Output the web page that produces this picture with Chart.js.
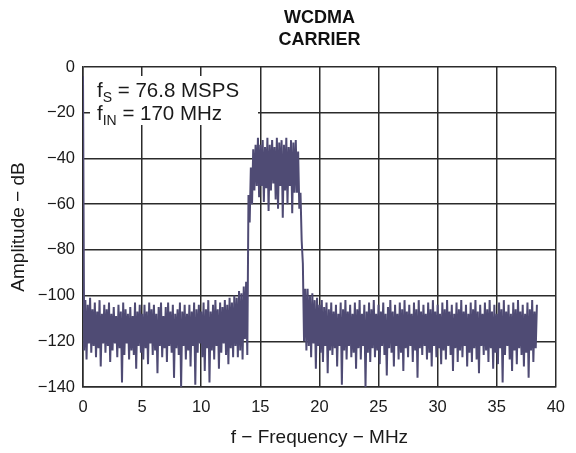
<!DOCTYPE html>
<html>
<head>
<meta charset="utf-8">
<script src="https://cdn.jsdelivr.net/npm/chart.js@4"></script>
<style>
  body { margin: 0; background: #fff; }
  #wrap { width: 576px; height: 453px; position: relative; }
</style>
</head>
<body>
<div id="wrap"><canvas id="spectrumChart"></canvas></div>
<script>
// FFT bin spacing of the plotted spectrum (MHz)
const binStepMHz = 0.1;

// amplitude (dB) per bin, one row per MHz
const floorLow = [
  -4, -124, -102, -128, -104, -121, -101, -125, -106, -122,
  -103, -127, -107, -123, -102, -131, -108, -121, -104, -125,
  -106, -122, -103, -129, -108, -124, -105, -121, -109, -127,
  -104, -123, -107, -138, -103, -126, -106, -121, -108, -128,
  -105, -124, -109, -126, -103, -132, -107, -122, -104, -125,
  -108, -128, -104, -123, -107, -130, -103, -121, -106, -126,
  -104, -124, -108, -134, -105, -122, -103, -127, -109, -123,
  -105, -129, -103, -122, -107, -125, -104, -136, -108, -123,
  -106, -126, -103, -140, -107, -122, -104, -128, -108, -124,
  -104, -131, -107, -122, -103, -139, -106, -125, -104, -121,
  -107, -127, -103, -133, -106, -123, -102, -138, -107, -124,
  -104, -128, -102, -122, -106, -132, -103, -125, -105, -121,
  -102, -126, -104, -130, -101, -123, -103, -127, -100, -122,
  -101, -127, -98, -124, -99, -128, -96, -119, -94, -126
];

const carrier = [
  -56, -68, -44, -60, -36, -54, -34, -52, -31, -57,
  -34, -52, -32, -59, -35, -53, -31, -63, -34, -54,
  -32, -51, -35, -58, -31, -62, -33, -52, -32, -66,
  -34, -54, -31, -60, -35, -52, -32, -64, -33, -55,
  -32, -55, -37, -62, -55, -76, -86, -120, -97, -124
];

const floorHigh = [
  -97, -122, -100, -127, -99, -121, -102, -132, -101, -122,
  -104, -125, -102, -129, -105, -122, -103, -134, -106, -124,
  -103, -126, -107, -123, -104, -131, -108, -122, -103, -139,
  -106, -124, -102, -128, -107, -122, -104, -127, -108, -125,
  -103, -132, -106, -123, -102, -128, -108, -122, -104, -140,
  -107, -125, -103, -129, -106, -123, -102, -127, -108, -124,
  -104, -130, -107, -122, -103, -126, -108, -135, -105, -123,
  -102, -125, -107, -131, -104, -122, -108, -128, -103, -125,
  -106, -133, -102, -123, -107, -127, -104, -122, -108, -129,
  -103, -124, -106, -136, -102, -123, -107, -126, -104, -122,
  -108, -128, -103, -125, -106, -131, -102, -122, -107, -127,
  -104, -123, -108, -130, -103, -124, -106, -128, -102, -122,
  -107, -126, -104, -133, -108, -123, -103, -129, -106, -124,
  -102, -127, -107, -122, -104, -131, -108, -125, -103, -129,
  -106, -123, -102, -128, -107, -134, -104, -122, -108, -126,
  -103, -124, -106, -129, -102, -123, -107, -132, -104, -125,
  -108, -130, -103, -123, -106, -138, -102, -126, -107, -122,
  -104, -128, -108, -133, -103, -124, -106, -130, -102, -123,
  -107, -126, -104, -131, -108, -125, -103, -136, -106, -124,
  -102, -129, -107, -123, -104
];

const xTicks = [0, 5, 10, 15, 20, 25, 30, 35, 40];
const yTicks = [-140, -120, -100, -80, -60, -40, -20, 0];
const titleLines = ["WCDMA", "CARRIER"];

const amplitude = floorLow.concat(carrier, floorHigh);
const points = amplitude.map((v, i) => ({ x: i * binStepMHz, y: v }));

const minus = v => String(v).replace("-", "\u2212");
const fontFam = "'Liberation Sans', Arial, sans-serif";

// title, and the text box with the sample/input frequencies
const notesPlugin = {
  id: "notes",
  beforeDatasetsDraw(chart) {
    const ctx = chart.ctx;
    const a = chart.chartArea;
    ctx.save();
    // white box hides grid behind the note
    ctx.fillStyle = "#fff";
    ctx.fillRect(a.left + 7, a.top + 9, 168, 49);

    ctx.fillStyle = "#1a1a1a";
    ctx.textBaseline = "alphabetic";
    ctx.textAlign = "left";
    const rows = [["f", "S", " = 76.8 MSPS"], ["f", "IN", " = 170 MHz"]];
    rows.forEach((r, k) => {
      let x = 97;
      const y = 97 + k * 23;
      ctx.font = "20.5px " + fontFam;
      ctx.fillText(r[0], x, y);
      x += ctx.measureText(r[0]).width;
      ctx.font = "14px " + fontFam;
      ctx.fillText(r[1], x, y + 5);
      x += ctx.measureText(r[1]).width;
      ctx.font = "20.5px " + fontFam;
      ctx.fillText(r[2], x, y);
    });
    ctx.restore();
  },
  afterDraw(chart) {
    const ctx = chart.ctx;
    const a = chart.chartArea;
    ctx.save();
    ctx.fillStyle = "#111";
    ctx.font = "bold 18px " + fontFam;
    ctx.textAlign = "center";
    ctx.textBaseline = "middle";
    titleLines.forEach((t, k) => ctx.fillText(t, (a.left + a.right) / 2, 18 + k * 22));
    ctx.restore();
  }
};

const ctx = document.getElementById("spectrumChart").getContext("2d");
new Chart(ctx, {
  type: "line",
  data: {
    datasets: [{
      label: "Amplitude",
      data: points,
      borderColor: "#4f4b74",
      borderWidth: 2,
      pointRadius: 0,
      tension: 0,
      fill: false
    }]
  },
  options: {
    responsive: true,
    maintainAspectRatio: false,
    animation: false,
    layout: { padding: { top: 67, right: 16, left: 0, bottom: 0 } },
    plugins: {
      legend: { display: false },
      tooltip: { enabled: false }
    },
    scales: {
      x: {
        type: "linear",
        min: 0,
        max: 40,
        afterFit: s => { s.height = 66; },
        afterBuildTicks: s => { s.ticks = xTicks.map(v => ({ value: v })); },
        grid: { color: "#2b2b2b", lineWidth: 1.5, drawTicks: false },
        border: { color: "#2b2b2b", width: 1.5 },
        ticks: {
          padding: 11,
          color: "#1a1a1a",
          font: { family: fontFam, size: 16.5 },
          callback: minus
        },
        title: {
          display: true,
          text: "f \u2212 Frequency \u2212 MHz",
          color: "#1a1a1a",
          font: { family: fontFam, size: 19 },
          padding: { top: 4, bottom: 4 }
        }
      },
      y: {
        min: -140,
        max: 0,
        afterFit: s => { s.width = 83; },
        afterBuildTicks: s => { s.ticks = yTicks.map(v => ({ value: v })); },
        grid: { color: "#2b2b2b", lineWidth: 1.5, drawTicks: false },
        border: { color: "#2b2b2b", width: 1.5 },
        ticks: {
          padding: 8,
          color: "#1a1a1a",
          font: { family: fontFam, size: 16.5 },
          callback: minus
        },
        title: {
          display: true,
          text: "Amplitude \u2212 dB",
          color: "#1a1a1a",
          font: { family: fontFam, size: 19 },
          padding: { top: 7, bottom: 4 }
        }
      }
    }
  },
  plugins: [notesPlugin]
});
</script>
</body>
</html>
